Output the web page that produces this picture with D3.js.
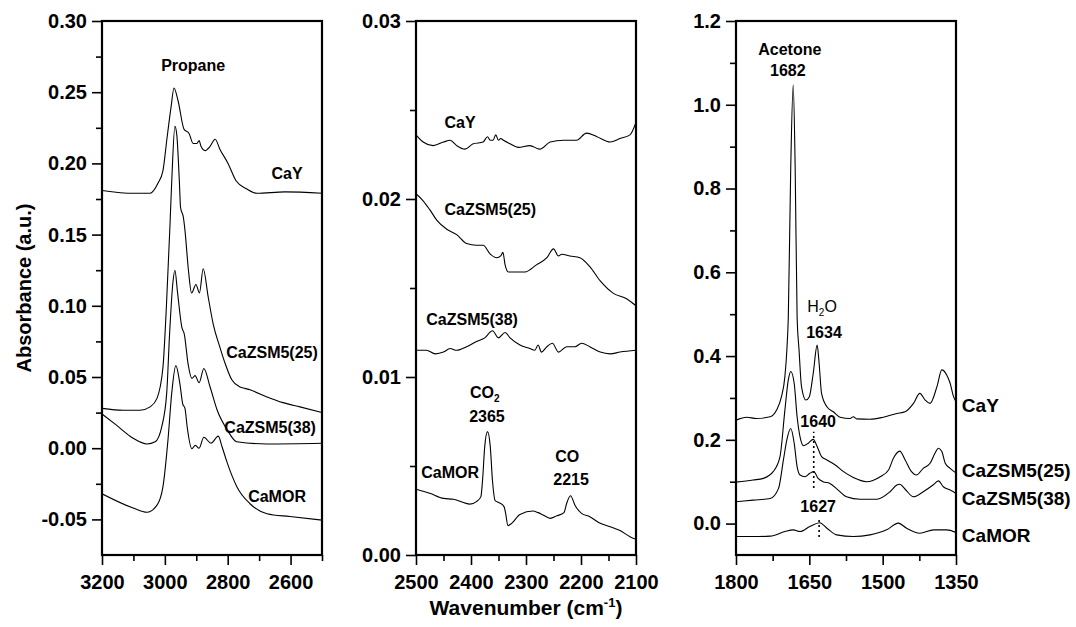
<!DOCTYPE html>
<html>
<head>
<meta charset="utf-8">
<script src="https://cdn.jsdelivr.net/npm/d3@7"></script>
<style>
  body { margin: 0; background: #fff; }
  svg  { display: block; font-family: "Liberation Sans", Arial, Helvetica, sans-serif; }
</style>
</head>
<body>
<svg id="chart" width="1076" height="627"></svg>
<script>
// spectra as [wavenumber (cm-1), absorbance]

// left panel: propane C-H region
const propaneCaY = [
  [3200, .181], [3100, .179], [3047, .179], [3022, .186], [3006, .195], [2993, .218], [2980, .240],
  [2971, .253], [2958, .244], [2939, .224], [2923, .221], [2910, .214], [2898, .214], [2891, .216],
  [2885, .212], [2872, .209], [2856, .212], [2840, .217], [2825, .210], [2799, .200], [2774, .188],
  [2739, .182], [2707, .179], [2618, .180], [2500, .179],
]
const propaneZSM25 = [
  [3200, .028], [3132, .0266], [3079, .0266], [3047, .029], [3025, .035], [3006, .057], [2995, .100],
  [2984, .155], [2978, .188], [2968, .226], [2962, .220], [2954, .188], [2950, .169], [2941, .162],
  [2936, .153], [2925, .125], [2915, .109], [2901, .115], [2890, .109], [2878, .126], [2862, .106],
  [2846, .087], [2825, .071], [2809, .060], [2787, .048], [2761, .043], [2745, .042], [2729, .041],
  [2675, .036], [2624, .032], [2570, .029], [2500, .025],
]
const propaneZSM38 = [
  [3200, .024], [3153, .016], [3101, .007], [3057, .003], [3031, .0045], [3010, .015], [2994, .039],
  [2985, .080], [2975, .115], [2968, .125], [2960, .110], [2946, .085], [2938, .080], [2926, .059],
  [2914, .049], [2904, .051], [2891, .046], [2876, .056], [2856, .043], [2834, .027], [2802, .013],
  [2771, .0045], [2675, .003], [2500, .0035],
]
const propaneMOR = [
  [3200, -.032], [3101, -.042], [3057, -.045], [3025, -.040], [3006, -.027], [2990, .006], [2978, .039],
  [2965, .058], [2952, .045], [2943, .031], [2936, .028], [2929, .015], [2914, -.0004], [2903, .002],
  [2891, .000], [2876, .0077], [2853, .0035], [2830, .0085], [2818, .001], [2802, -.010], [2771, -.027],
  [2729, -.039], [2675, -.046], [2602, -.048], [2500, -.0505],
]

// middle panel: CO2 / CO region
const carbonCaY = [
  [2500, .0236], [2487, .0232], [2469, .0230], [2450, .0232], [2438, .0233], [2426, .0230], [2411, .0228],
  [2396, .0231], [2378, .0232], [2370, .0235], [2365, .0233], [2360, .0233], [2355, .0236], [2350, .0233],
  [2346, .0234], [2341, .0233], [2329, .0231], [2314, .0229], [2293, .0230], [2275, .0228], [2256, .0232],
  [2232, .0233], [2208, .0233], [2190, .0237], [2171, .0235], [2147, .0232], [2129, .0234], [2111, .0236],
  [2100, .0243],
]
const carbonZSM25 = [
  [2500, .0203], [2487, .0199], [2475, .0194], [2462, .0188], [2444, .0183], [2426, .0180], [2408, .0175],
  [2390, .0174], [2378, .0174], [2365, .0169], [2353, .0167], [2346, .0168], [2342, .0170], [2338, .0163],
  [2332, .0159], [2302, .0159], [2281, .0163], [2262, .0167], [2250, .0172], [2241, .0168], [2235, .0169],
  [2220, .0168], [2202, .0167], [2184, .0162], [2165, .0154], [2141, .0147], [2117, .0144], [2100, .0140],
]
const carbonZSM38 = [
  [2500, .0115], [2481, .0115], [2465, .0113], [2450, .0114], [2438, .0116], [2426, .0115], [2408, .0117],
  [2390, .0120], [2375, .0122], [2361, .0126], [2350, .0122], [2338, .0125], [2329, .0122], [2311, .0118],
  [2293, .0116], [2284, .0115], [2278, .0118], [2272, .0114], [2262, .0117], [2252, .0119], [2241, .0114],
  [2226, .0117], [2211, .0117], [2199, .0119], [2184, .0117], [2165, .0114], [2147, .0113], [2129, .0114],
  [2100, .0115],
]
const carbonMOR = [
  [2500, .0037], [2475, .00347], [2450, .00318], [2432, .00313], [2402, .00286], [2390, .0030], [2382, .00328],
  [2379, .0042], [2375, .0061], [2370, .00693], [2365, .0061], [2361, .0042], [2356, .00305], [2349, .00294],
  [2340, .00272], [2337, .00234], [2333, .00165], [2326, .00178], [2311, .00228], [2287, .00247], [2278, .00238],
  [2269, .00225], [2256, .00206], [2244, .0022], [2231, .00238], [2226, .00291], [2219, .00333], [2211, .0028],
  [2199, .00234], [2184, .00215], [2165, .00178], [2147, .00159], [2129, .00137], [2111, .00103], [2100, .00088],
]

// right panel: acetone C=O region
const acetoneCaY = [
  [1800, .247], [1778, .254], [1758, .251], [1730, .255], [1717, .271], [1707, .303], [1700, .351],
  [1696, .414], [1693, .494], [1688, .852], [1683, 1.047], [1679, .852], [1675, .494], [1671, .414],
  [1666, .327], [1657, .295], [1650, .303], [1642, .359], [1634, .426], [1630, .383], [1625, .311],
  [1614, .279], [1601, .267], [1587, .254], [1567, .251], [1560, .255], [1553, .250], [1526, .249],
  [1499, .254], [1471, .263], [1454, .267], [1437, .287], [1424, .311], [1413, .295], [1403, .287],
  [1389, .327], [1379, .367], [1369, .355], [1362, .335], [1355, .303], [1350, .291],
]
const acetoneZSM25 = [
  [1800, .099], [1765, .104], [1744, .108], [1724, .124], [1710, .160], [1700, .271], [1693, .343],
  [1688, .363], [1681, .335], [1675, .255], [1669, .207], [1662, .186], [1652, .192], [1642, .201],
  [1634, .184], [1625, .160], [1614, .152], [1597, .140], [1580, .124], [1560, .110], [1533, .100],
  [1505, .112], [1488, .128], [1478, .156], [1465, .173], [1454, .152], [1441, .124], [1431, .116],
  [1417, .132], [1403, .144], [1393, .168], [1386, .180], [1379, .172], [1372, .144], [1362, .132],
  [1350, .121],
]
const acetoneZSM38 = [
  [1800, .052], [1765, .056], [1730, .060], [1713, .084], [1703, .152], [1696, .200], [1688, .227],
  [1681, .192], [1675, .136], [1669, .116], [1659, .112], [1649, .120], [1641, .124], [1632, .108],
  [1622, .100], [1608, .096], [1591, .080], [1574, .064], [1546, .058], [1512, .058], [1485, .076],
  [1471, .092], [1465, .094], [1454, .082], [1437, .064], [1417, .076], [1397, .092], [1386, .102],
  [1376, .088], [1362, .080], [1350, .072],
]
const acetoneMOR = [
  [1800, -.031], [1765, -.031], [1730, -.030], [1700, -.019], [1683, -.015], [1669, -.019], [1649, -.007],
  [1629, .002], [1614, -.011], [1594, -.027], [1560, -.031], [1526, -.027], [1492, -.015], [1468, .001],
  [1451, -.011], [1424, -.023], [1396, -.015], [1369, -.015], [1350, -.021],
]

const sampleNames = ['CaY', 'CaZSM5(25)', 'CaZSM5(38)', 'CaMOR']

const W = 1076, H = 627
const TOP = 21, BOTTOM = 555

const panels = [
  {
    left: 102, right: 322, xDomain: [3200, 2500], yDomain: [-0.075, 0.30], digits: 2,
    xMajor: [3200, 3000, 2800, 2600], xMinor: [3100, 2900, 2700, 2500],
    yMajor: [-0.05, 0, 0.05, 0.10, 0.15, 0.20, 0.25, 0.30],
    yMinor: [-0.025, 0.025, 0.075, 0.125, 0.175, 0.225, 0.275],
    series: [propaneCaY, propaneZSM25, propaneZSM38, propaneMOR],
    labels: [
      { text: 'Propane', w: 2910, v: 0.265 },
      { text: sampleNames[0], w: 2611, v: 0.189 },
      { text: sampleNames[1], w: 2659, v: 0.063 },
      { text: sampleNames[2], w: 2665, v: 0.0105 },
      { text: sampleNames[3], w: 2643, v: -0.038 },
    ],
  },
  {
    left: 416, right: 636, xDomain: [2500, 2100], yDomain: [0, 0.03], digits: 2,
    xMajor: [2500, 2400, 2300, 2200, 2100], xMinor: [2450, 2350, 2250, 2150],
    yMajor: [0, 0.01, 0.02, 0.03], yMinor: [0.005, 0.015, 0.025],
    series: [carbonCaY, carbonZSM25, carbonZSM38, carbonMOR],
    labels: [
      { text: sampleNames[0], w: 2420, v: 0.0240 },
      { text: sampleNames[1], w: 2365, v: 0.0191 },
      { text: sampleNames[2], w: 2398, v: 0.0129 },
      { text: sampleNames[3], w: 2438, v: 0.00433 },
      { text: 'CO', sub: '2', w: 2375, v: 0.00882 },
      { text: '2365', w: 2371, v: 0.00747 },
      { text: 'CO', w: 2225, v: 0.00522 },
      { text: '2215', w: 2218, v: 0.00393 },
    ],
  },
  {
    left: 736, right: 956, xDomain: [1800, 1350], yDomain: [-0.075, 1.2], digits: 1,
    xMajor: [1800, 1650, 1500, 1350], xMinor: [1725, 1575, 1425],
    yMajor: [0, 0.2, 0.4, 0.6, 0.8, 1.0, 1.2], yMinor: [0.1, 0.3, 0.5, 0.7, 0.9, 1.1],
    series: [acetoneCaY, acetoneZSM25, acetoneZSM38, acetoneMOR],
    labels: [
      { text: 'Acetone', w: 1690, v: 1.119 },
      { text: '1682', w: 1694, v: 1.069 },
      { text: 'H', sub: '2', after: 'O', w: 1624, v: 0.505, normal: true },
      { text: '1634', w: 1620, v: 0.443 },
      { text: '1640', w: 1632, v: 0.231 },
      { text: '1627', w: 1632, v: 0.028 },
      { text: sampleNames[0], w: 1338, v: 0.266, big: true },
      { text: sampleNames[1], w: 1338, v: 0.111, big: true },
      { text: sampleNames[2], w: 1338, v: 0.044, big: true },
      { text: sampleNames[3], w: 1338, v: -0.044, big: true },
    ],
    markers: [
      { w: 1641, from: 0.085, to: 0.219 },
      { w: 1630, from: -0.032, to: 0.013 },
    ],
  },
]

const svg = d3.select('#chart')
svg.append('rect').attr('width', W).attr('height', H).attr('fill', '#fff')

panels.forEach((p, i) => {
  const x = d3.scaleLinear().domain(p.xDomain).range([p.left, p.right])
  const y = d3.scaleLinear().domain(p.yDomain).range([BOTTOM, TOP])
  const g = svg.append('g')

  g.append('clipPath').attr('id', `clip${i}`)
    .append('rect').attr('x', p.left).attr('y', TOP).attr('width', p.right - p.left).attr('height', BOTTOM - TOP)

  const line = d3.line().x(d => x(d[0])).y(d => y(d[1])).curve(d3.curveMonotoneX)
  g.append('g').attr('clip-path', `url(#clip${i})`)
    .selectAll('path').data(p.series).join('path')
    .attr('d', line)
    .attr('fill', 'none').attr('stroke', '#000').attr('stroke-width', 1.1)
    .attr('stroke-linejoin', 'round')

  // ticks
  const xAxis = g.append('g').attr('transform', `translate(0,${BOTTOM})`)
    .call(d3.axisBottom(x).tickValues(p.xMajor).tickSize(10).tickSizeOuter(0).tickPadding(10).tickFormat(d3.format('d')))
  const xMinor = g.append('g').attr('transform', `translate(0,${BOTTOM})`)
    .call(d3.axisBottom(x).tickValues(p.xMinor).tickSize(6).tickSizeOuter(0).tickFormat(''))
  const yAxis = g.append('g').attr('transform', `translate(${p.left},0)`)
    .call(d3.axisLeft(y).tickValues(p.yMajor).tickSize(10).tickSizeOuter(0).tickPadding(5).tickFormat(d => d.toFixed(p.digits)))
  const yMinor = g.append('g').attr('transform', `translate(${p.left},0)`)
    .call(d3.axisLeft(y).tickValues(p.yMinor).tickSize(6).tickSizeOuter(0).tickFormat(''))

  for (const ax of [xAxis, xMinor, yAxis, yMinor]) {
    ax.select('.domain').remove()
    ax.selectAll('line').attr('stroke', '#000').attr('stroke-width', 1.6)
    ax.selectAll('text').attr('fill', '#000').attr('font-size', '20px').attr('font-weight', 'bold')
  }

  // frame
  g.append('rect')
    .attr('x', p.left).attr('y', TOP).attr('width', p.right - p.left).attr('height', BOTTOM - TOP)
    .attr('fill', 'none').attr('stroke', '#000').attr('stroke-width', 2.2)

  // annotations
  const lab = g.selectAll('text.lab').data(p.labels).join('text').attr('class', 'lab')
    .attr('x', d => x(d.w)).attr('y', d => y(d.v))
    .attr('text-anchor', d => d.big ? 'start' : 'middle')
    .attr('font-size', d => d.big ? '19px' : '16px')
    .attr('font-weight', d => d.normal ? 'normal' : 'bold')
    .attr('fill', '#000')
  lab.append('tspan').text(d => d.text)
  lab.filter(d => d.sub).append('tspan').text(d => d.sub)
    .attr('font-size', '10px').attr('dy', '4')
  lab.filter(d => d.after).append('tspan').text(d => d.after).attr('dy', '-4')

  g.selectAll('line.mark').data(p.markers || []).join('line').attr('class', 'mark')
    .attr('x1', d => x(d.w)).attr('x2', d => x(d.w))
    .attr('y1', d => y(d.from)).attr('y2', d => y(d.to))
    .attr('stroke', '#000').attr('stroke-width', 1.6).attr('stroke-dasharray', '2,3')
})

// axis titles
svg.append('text')
  .attr('transform', `translate(31,${(TOP + BOTTOM) / 2}) rotate(-90)`)
  .attr('text-anchor', 'middle')
  .attr('font-size', '20px').attr('font-weight', 'bold')
  .text('Absorbance (a.u.)')

const xt = svg.append('text')
  .attr('x', 526).attr('y', 615)
  .attr('text-anchor', 'middle')
  .attr('font-size', '21px').attr('font-weight', 'bold')
xt.append('tspan').text('Wavenumber (cm')
xt.append('tspan').text('-1').attr('font-size', '13px').attr('dy', '-8')
xt.append('tspan').text(')').attr('dy', '8')
</script>
</body>
</html>
